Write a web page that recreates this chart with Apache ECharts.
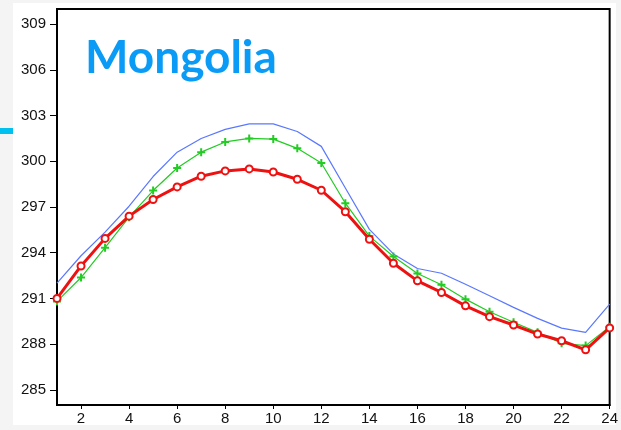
<!DOCTYPE html>
<html>
<head>
<meta charset="utf-8">
<script src="https://cdn.jsdelivr.net/npm/echarts@6/dist/echarts.min.js"></script>
<style>
  html, body { margin: 0; padding: 0; background: #f4f4f4; }
  #chart { width: 621px; height: 430px; }
</style>
</head>
<body>
<div id="chart"></div>
<script>
// Hour of day (x) and near-surface temperature (K) for three runs
const hours = [1, 2, 3, 4, 5, 6, 7, 8, 9, 10, 11, 12, 13, 14, 15, 16, 17, 18, 19, 20, 21, 22, 23, 24];
const blueSeries = [292.0, 293.8, 295.35, 297.05, 299.0, 300.6, 301.5, 302.1, 302.46, 302.46, 301.96, 300.98,
                    298.25, 295.53, 293.92, 292.96, 292.65, 291.93, 291.17, 290.41, 289.69, 289.05, 288.77, 290.62];
const greenSeries = [290.8, 292.37, 294.33, 296.33, 298.08, 299.56, 300.6, 301.27, 301.5, 301.46, 300.85, 299.89,
                     297.25, 295.09, 293.75, 292.63, 291.89, 290.95, 290.12, 289.43, 288.77, 288.05, 287.9, 289.14];
const redSeries = [291.0, 293.13, 294.94, 296.4, 297.49, 298.32, 299.02, 299.37, 299.5, 299.3, 298.82, 298.1,
                   296.69, 294.88, 293.31, 292.15, 291.39, 290.51, 289.8, 289.25, 288.66, 288.22, 287.62, 289.06];
const yTicks = [285, 288, 291, 294, 297, 300, 303, 306, 309];
const xTicks = [2, 4, 6, 8, 10, 12, 14, 16, 18, 20, 22, 24];
const titleText = 'Mongolia';

const pairs = (vals) => hours.map((h, i) => [h, vals[i]]);
const plusSymbol = 'path://M3,0h2v3h3v2h-3v3h-2v-3h-3v-2h3z';
const labelFont = { fontFamily: 'Liberation Sans, Arial, sans-serif', fontSize: 15, color: '#111' };

const chart = echarts.init(document.getElementById('chart'), null, { renderer: 'canvas' });
chart.setOption({
  backgroundColor: '#f4f4f4',
  animation: false,
  graphic: [
    { type: 'rect', z: -10, shape: { x: 13, y: 3, width: 603, height: 422 }, style: { fill: '#ffffff' } },
    { type: 'rect', z: -9, shape: { x: 0, y: 128, width: 13, height: 6 }, style: { fill: '#00c0f0' } }
  ],
  title: {
    text: titleText,
    left: 80,
    top: 30,
    textStyle: { fontFamily: 'Lato, sans-serif', fontWeight: 'bold', fontSize: 46, color: '#0a9bf7' }
  },
  grid: {
    left: 57, right: 8, top: 9, bottom: 25,
    show: true, borderColor: '#000', borderWidth: 2, backgroundColor: 'transparent'
  },
  xAxis: {
    type: 'value', min: 1, max: 24,
    axisLine: { lineStyle: { color: '#000', width: 2 } },
    axisTick: { show: true, length: 4, customValues: xTicks, lineStyle: { color: '#000', width: 1 } },
    axisLabel: { customValues: xTicks, margin: 6, ...labelFont },
    splitLine: { show: false }
  },
  yAxis: {
    type: 'value', min: 284, max: 310,
    axisLine: { show: true, lineStyle: { color: '#000', width: 2 } },
    axisTick: { show: true, length: 7, customValues: yTicks, lineStyle: { color: '#000', width: 1 } },
    axisLabel: { customValues: yTicks, margin: 11, ...labelFont },
    splitLine: { show: false }
  },
  series: [
    {
      name: 'blue', type: 'line', data: pairs(blueSeries), showSymbol: false, symbol: 'none',
      lineStyle: { color: '#5a78ff', width: 1.2 }, z: 2
    },
    {
      name: 'green', type: 'line', data: pairs(greenSeries), symbol: plusSymbol, symbolSize: 8,
      lineStyle: { color: '#22cc22', width: 1.2 }, itemStyle: { color: '#22cc22' }, z: 3
    },
    {
      name: 'red', type: 'line', data: pairs(redSeries), symbol: 'circle', symbolSize: 7,
      lineStyle: { color: '#ee1111', width: 3 },
      itemStyle: { color: '#ffffff', borderColor: '#ee1111', borderWidth: 2 }, z: 4
    }
  ]
});
</script>
</body>
</html>
